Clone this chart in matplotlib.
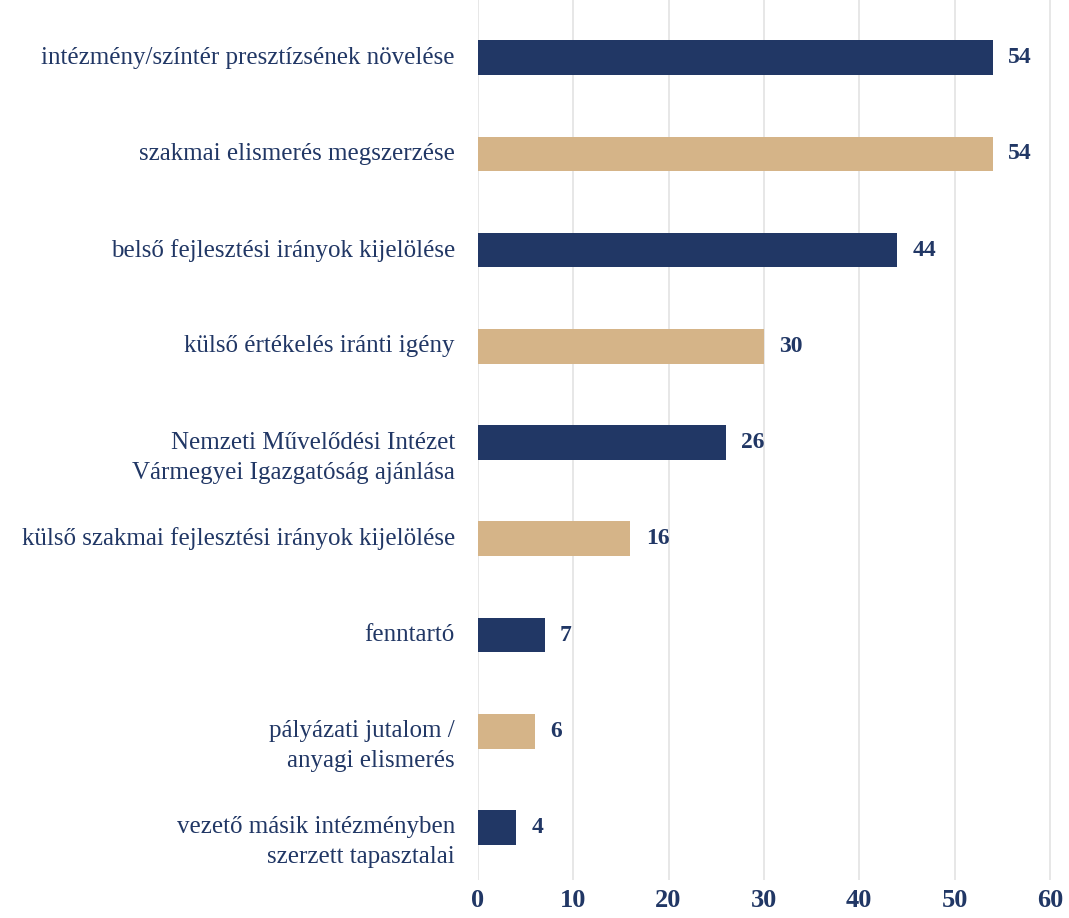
import matplotlib.pyplot as plt
import matplotlib.transforms as mtransforms

categories = [
    "intézmény/színtér presztízsének növelése",
    "szakmai elismerés megszerzése",
    "belső fejlesztési irányok kijelölése",
    "külső értékelés iránti igény",
    "Nemzeti Művelődési Intézet\nVármegyei Igazgatóság ajánlása",
    "külső szakmai fejlesztési irányok kijelölése",
    "fenntartó",
    "pályázati jutalom /\nanyagi elismerés",
    "vezető másik intézményben\nszerzett tapasztalai",
]
values = [54, 54, 44, 30, 26, 16, 7, 6, 4]

navy = "#213765"
tan = "#D5B488"
colors = [navy if i % 2 == 0 else tan for i in range(len(values))]

plt.rcParams["font.family"] = ["Liberation Serif", "DejaVu Serif"]

fig = plt.figure(figsize=(10.69, 9.18), dpi=100)
ax = fig.add_axes([0.447, 0.041, 0.553, 0.959])

y = list(range(len(values)))
ax.barh(y, values, height=0.36, color=colors, zorder=3)

for yi, v in zip(y, values):
    ax.text(v + 1.6, yi, str(v), va="center", ha="left", fontsize=17,
            fontweight="bold", color=navy)

# category labels: first line level with the bar, further lines below it
ax.set_yticks(y)
ax.set_yticklabels([])
base = ax.get_yaxis_transform()
for yi, cat in zip(y, categories):
    for k, line in enumerate(cat.split("\n")):
        off = mtransforms.ScaledTranslation(-23 / 100, -30 * k / 100, fig.dpi_scale_trans)
        ax.text(0, yi, line, transform=base + off, ha="right", va="center",
                fontsize=18, color=navy)

ax.set_ylim(8.55, -0.6)
ax.set_xlim(0, 62)
ax.set_xticks(range(0, 61, 10))
ax.tick_params(axis="x", labelsize=19, colors=navy, length=0, pad=6)
for lbl in ax.get_xticklabels():
    lbl.set_fontweight("bold")
ax.tick_params(axis="y", length=0)
ax.grid(axis="x", color="#e3e3e3", linewidth=1.2, zorder=0)
for s in ax.spines.values():
    s.set_visible(False)

fig.savefig("out.png", dpi=100)
